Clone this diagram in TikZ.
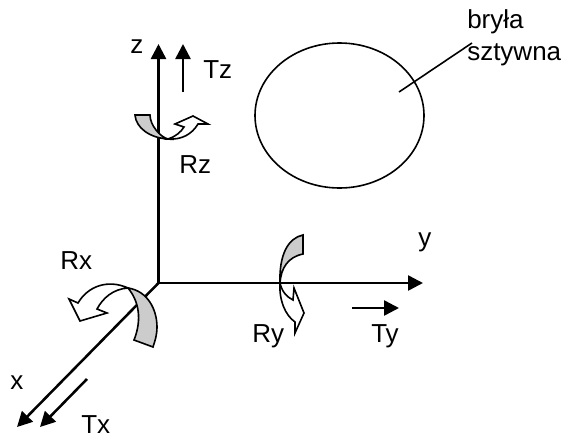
\documentclass[tikz,border=0pt]{standalone}
\usepackage{fontspec}
\setmainfont{Liberation Sans}
\usetikzlibrary{arrows.meta, shapes.geometric}
\tikzset{
    axisline/.style={-{Triangle[length=11.25pt,width=11.25pt]}, line width=1.9pt, color=black},
    bandfill/.style={fill=black!20, draw=black, line width=1.2pt, line join=miter},
    bandhead/.style={fill=white, draw=black, line width=1.2pt, line join=miter},
    lbl/.style={font=\fontsize{19.5}{24}\selectfont, inner sep=0pt, align=left, anchor=base west},
}
\begin{document}
\begin{tikzpicture}[x=0.75pt, y=-0.75pt]
    \useasboundingbox (0,0) rectangle (565,436);
    % Uklad osi
    \coordinate (origin) at (158.5,283);
    \coordinate (ztip) at (158.5,44);
    \coordinate (ytip) at (423,283);
    \coordinate (xtip) at (17,427);
    \draw[axisline] (origin) -- (ztip);
    \draw[axisline] (origin) -- (ytip);
    \draw[axisline] (origin) -- (xtip);
    \node[lbl] (zlabel) at (130,53) {z};
    \node[lbl] (ylabel) at (418,246) {y};
    \node[lbl] (xlabel) at (10,389) {x};
    % Przesuniecia
    \coordinate (tzstart) at (183,92);
    \coordinate (tzend) at (183,44);
    \coordinate (tystart) at (352,308);
    \coordinate (tyend) at (399,308);
    \coordinate (txstart) at (87,379);
    \coordinate (txend) at (40,427);
    \draw[axisline] (tzstart) -- (tzend);
    \draw[axisline] (tystart) -- (tyend);
    \draw[axisline] (txstart) -- (txend);
    \node[lbl] (tzlabel) at (203,78) {Tz};
    \node[lbl] (tylabel) at (371,342) {Ty};
    \node[lbl] (txlabel) at (81,433) {Tx};
    % Obrot Rz
    \draw[bandfill] (135,115) .. controls (136,128) and (150,138) .. (168,139)
        .. controls (160,137) and (150,125) .. (150,115) -- cycle;
    \draw[bandhead] (168,139) .. controls (175,137) and (181,132) .. (184,127) -- (175,124)
        -- (193,116) -- (208,124) -- (198,124) .. controls (192,134) and (182,140) .. (168,139) -- cycle;
    \node[lbl] (rzlabel) at (179,173) {Rz};
    % Obrot Ry
    \draw[bandfill] (303,235) .. controls (288,238) and (279,255) .. (280,283)
        .. controls (281,268) and (288,257) .. (303,254) -- cycle;
    \draw[bandhead] (280,283) .. controls (282,292) and (287,297) .. (293,300) -- (294,288)
        -- (304,313) -- (295,333) -- (295,322) .. controls (285,315) and (279,300) .. (280,283) -- cycle;
    \node[lbl] (rylabel) at (252,342) {Ry};
    % Obrot Rx
    \draw[bandfill] (128,288) .. controls (148,291) and (157,310) .. (157,327)
        .. controls (157,335) and (155,341) .. (153,347) -- (134,340)
        .. controls (140,325) and (142,305) .. (128,288) -- cycle;
    \draw[bandhead] (128,288) .. controls (108,279) and (88,286) .. (78,303) -- (69,299)
        -- (80,321) -- (107,313) -- (97,309) .. controls (103,298) and (113,289) .. (128,288) -- cycle;
    \node[lbl] (rxlabel) at (60,269) {Rx};
    % Bryla sztywna
    \node[draw, ellipse, line width=1.2pt, minimum width=126.75pt, minimum height=108.75pt, inner sep=0pt] (body) at (339.5,115.5) {};
    \node[lbl] (bodylabel) at (467,60) {bryła\\sztywna};
    \coordinate (bodypoint) at (399,92);
    \coordinate (labelpoint) at (472,43);
    \draw[line width=1.2pt] (bodypoint) -- (labelpoint);
\end{tikzpicture}
\end{document}
